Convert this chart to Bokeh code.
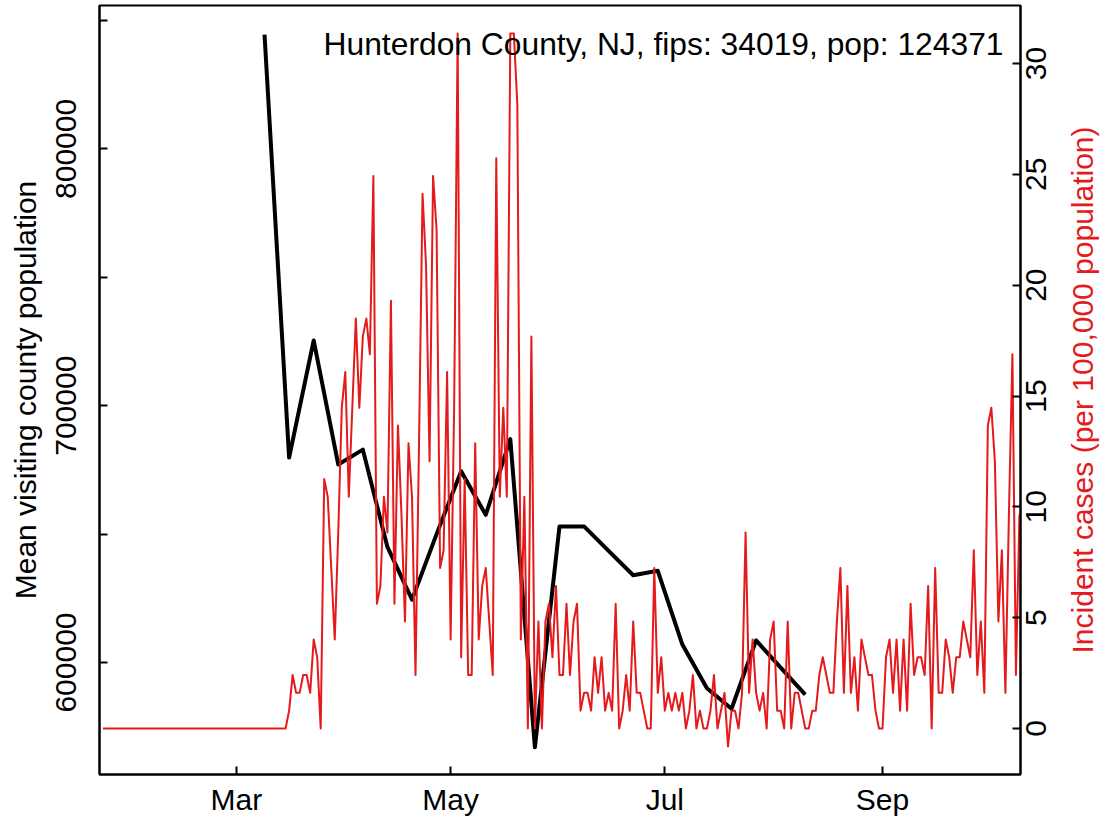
import math
from datetime import datetime, timedelta
import pandas as pd
from bokeh.plotting import figure
from bokeh.models import (Range1d, LinearAxis, FixedTicker, DatetimeTickFormatter, Label)
from bokeh.embed import file_html
from bokeh.resources import INLINE

TITLE = "Hunterdon County, NJ, fips: 34019, pop: 124371"
POP = 124371
LEFT_LABEL = "Mean visiting county population"
RIGHT_LABEL = "Incident cases (per 100,000 population)"
RED = "#E41A1C"
FONT = "Liberation Sans"

# weekly mean visiting county population
visit_start = "2020-03-09"
visit_pop = [844500, 679800, 725400, 677100, 682900, 645000, 624500, 650000,
             674500, 657500, 687000, 567000, 653000, 653000, 643500, 634000,
             635700, 607000, 590000, 582000, 608600, 598000, 587500]

# daily new cases (counts)
case_start = "2020-01-23"
daily_cases = [
    0, 0, 0, 0, 0, 0, 0, 0, 0, 0,
    0, 0, 0, 0, 0, 0, 0, 0, 0, 0,
    0, 0, 0, 0, 0, 0, 0, 0, 0, 0,
    0, 0, 0, 0, 0, 0, 0, 0, 0, 0,
    0, 0, 0, 0, 0, 0, 0, 0, 0, 0,
    0, 0, 0, 1, 3, 2, 2, 3, 3, 2,
    5, 4, 0, 14, 13, 9, 5, 11, 18, 20,
    13, 18, 23, 18, 22, 23, 21, 31, 7, 8,
    13, 11, 24, 7, 17, 12, 6, 16, 13, 3,
    16, 30, 26, 15, 31, 28, 9, 10, 20, 5,
    18, 39, 4, 14, 3, 3, 16, 5, 8, 9,
    6, 3, 32, 13, 18, 13, 39, 39, 35, 5,
    13, 0, 22, 0, 6, 0, 6, 7, 4, 8,
    3, 3, 7, 3, 6, 7, 1, 2, 2, 1,
    4, 2, 4, 1, 2, 1, 7, 0, 1, 3,
    1, 6, 2, 2, 1, 0, 0, 9, 2, 4,
    1, 2, 1, 2, 1, 2, 0, 1, 3, 0,
    1, 0, 0, 1, 3, 0, 1, 2, -1, 1,
    1, 0, 2, 11, 2, 5, 2, 1, 2, 0,
    5, 6, 1, 1, 0, 6, 0, 2, 2, 1,
    0, 0, 1, 1, 3, 4, 3, 2, 2, 6,
    9, 2, 8, 2, 4, 1, 5, 4, 3, 3,
    1, 0, 0, 4, 5, 2, 5, 1, 5, 1,
    7, 3, 4, 4, 3, 8, 0, 9, 2, 2,
    5, 4, 2, 4, 4, 6, 5, 4, 10, 3,
    6, 2, 17, 18, 15, 6, 10, 2, 12, 21,
    3, 12,
]

month_ticks = ["2020-03-01", "2020-05-01", "2020-07-01", "2020-09-01"]
left_ticks = [600000, 650000, 700000, 750000, 800000, 850000]
left_labels = {600000: "600000", 650000: "", 700000: "700000", 750000: "",
               800000: "800000", 850000: ""}
right_ticks = [0, 5, 10, 15, 20, 25, 30]

visit_dates = pd.date_range(visit_start, periods=len(visit_pop), freq="7D")
case_dates = pd.date_range(case_start, periods=len(daily_cases), freq="D")
incidence = [c * 100000 / POP for c in daily_cases]

EPOCH = datetime(1970, 1, 1)
def ms(d):
    return (d - EPOCH).total_seconds() * 1000.0

# ---- layout (canvas pixels) ----
W, H = 1119, 822
FL, FR, FT, FB = 99, 1020, 5, 774          # frame edges
x0 = datetime(2020, 1, 22)
x1 = x0 + timedelta(days=262.3)
Y0, Y1 = 556397, 855840                    # left range
R0, R1 = -2.075, 32.617                    # right range
FS = 30                                    # font size, px
EM = {"0": .556, "1": .556, "2": .556, "3": .556, "4": .556, "5": .556,
      "6": .556, "7": .556, "8": .556, "9": .556, " ": .278, ",": .278,
      "(": .333, ")": .333, "I": .278, "n": .556, "c": .5, "i": .222,
      "d": .556, "e": .556, "t": .278, "a": .556, "s": .5, "p": .556,
      "r": .333, "o": .556, "u": .556, "l": .222}

def text_px(s, fs=FS):
    return sum(EM.get(ch, .556) for ch in s) * fs

def px_x(px):
    return ms(x0) + (px - FL) / (FR - FL) * (ms(x1) - ms(x0))
def px_left(py):
    return Y1 - (py - FT) / (FB - FT) * (Y1 - Y0)
def px_right(py):
    return R1 - (py - FT) / (FB - FT) * (R1 - R0)
R_PER_PX = (R1 - R0) / (FB - FT)

p = figure(width=W, height=H, x_axis_type="datetime",
           x_range=Range1d(ms(x0), ms(x1)), y_range=Range1d(Y0, Y1),
           output_backend="svg", toolbar_location=None,
           min_border_left=FL, min_border_right=W - FR, min_border_top=FT,
           min_border_bottom=H - FB)
p.extra_y_ranges = {"cases": Range1d(R0, R1)}
p.grid.visible = False
p.outline_line_color = "black"
p.outline_line_width = 2
p.outline_line_alpha = 1.0
p.background_fill_color = "white"
p.border_fill_color = "white"

def style_axis(ax, ticks=True):
    ax.axis_line_color = "black" if ticks else None
    ax.axis_line_width = 2
    ax.major_tick_in = 8 if ticks else 0
    ax.major_tick_out = 0
    ax.major_tick_line_width = 2
    ax.minor_tick_in = 0
    ax.minor_tick_out = 0
    ax.major_label_text_font = FONT
    ax.major_label_text_font_size = f"{FS}px"
    ax.major_label_text_color = "black"
    ax.axis_label_text_font = FONT
    ax.axis_label_text_font_size = f"{FS}px"
    ax.axis_label_text_font_style = "normal"
    ax.axis_label_text_color = "black"

# bottom axis
xa = p.xaxis[0]
style_axis(xa)
xa.ticker = FixedTicker(ticks=[ms(datetime.fromisoformat(t)) for t in month_ticks])
fmt = "%b"
xa.formatter = DatetimeTickFormatter(microseconds=fmt, milliseconds=fmt, seconds=fmt,
                                     minsec=fmt, minutes=fmt, hourmin=fmt, hours=fmt,
                                     days=fmt, months=fmt, years=fmt)
xa.major_label_standoff = 8

# left axis
ya = p.yaxis[0]
style_axis(ya)
ya.ticker = FixedTicker(ticks=left_ticks)
ya.major_label_overrides = left_labels
ya.major_label_orientation = "vertical"
ya.major_label_standoff = 23
ya.axis_label = LEFT_LABEL
ya.axis_label_standoff = 12

# right axis: tick marks only
ra = LinearAxis(y_range_name="cases")
style_axis(ra)
ra.ticker = FixedTicker(ticks=right_ticks)
ra.major_label_overrides = {v: "" for v in right_ticks}
ra.major_label_standoff = 0
p.add_layout(ra, "right")

# right axis labels, reading bottom-to-top, centred on the ticks
shifted = {}
for v in right_ticks:
    s = str(v)
    shifted[round(v - text_px(s) / 2 * R_PER_PX, 4)] = s
rl = LinearAxis(y_range_name="cases")
style_axis(rl, ticks=False)
rl.ticker = FixedTicker(ticks=list(shifted.keys()))
rl.major_label_overrides = shifted
rl.major_label_orientation = math.pi / 2
rl.major_label_standoff = 16
p.add_layout(rl, "right")

# right axis title, centred on the frame
t_start = round(px_right((FT + FB) / 2) - text_px(RIGHT_LABEL) / 2 * R_PER_PX, 4)
rt = LinearAxis(y_range_name="cases")
style_axis(rt, ticks=False)
rt.ticker = FixedTicker(ticks=[t_start])
rt.major_label_overrides = {t_start: RIGHT_LABEL}
rt.major_label_orientation = math.pi / 2
rt.major_label_text_color = RED
rt.major_label_standoff = 23
p.add_layout(rt, "right")

p.line(visit_dates, visit_pop, line_color="black", line_width=4, line_join="round")
p.line(case_dates, incidence, y_range_name="cases", line_color=RED, line_width=2,
       line_join="round")

# header text inside the frame
p.add_layout(Label(x=px_x(1003), y=px_left(43), text=TITLE, text_align="right",
                   text_baseline="alphabetic", text_font=FONT,
                   text_font_size="31.8px", text_color="black"))

open("out.html", "w").write(file_html(p, INLINE))
